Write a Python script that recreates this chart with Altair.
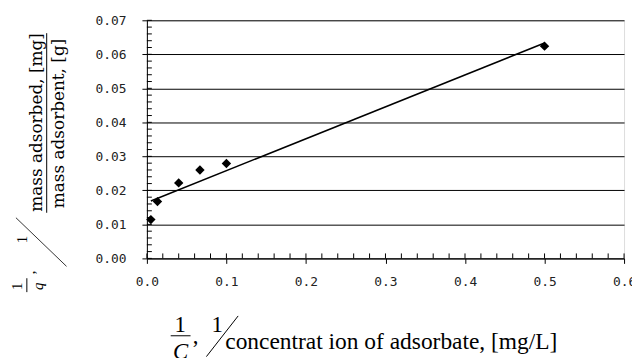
import altair as alt
import pandas as pd

# data
inv_c = [0.005, 0.0133, 0.04, 0.0667, 0.1, 0.5]
inv_q = [0.0114, 0.0167, 0.0222, 0.026, 0.0279, 0.0624]

x_major = [0.0, 0.1, 0.2, 0.3, 0.4, 0.5, 0.6]
x_minor = [round(i * 0.02, 2) for i in range(31)]
y_major = [0.0, 0.01, 0.02, 0.03, 0.04, 0.05, 0.06, 0.07]
y_minor = [round(i * 0.002, 3) for i in range(36)]

x_title_main = "concentrat ion of adsorbate,  [mg/L]"
y_title_num = "mass  adsorbed, [mg]"
y_title_den = "mass  adsorbent, [g]"

df = pd.DataFrame({"x": inv_c, "y": inv_q})
xminor_df = pd.DataFrame({"x": x_minor})
yminor_df = pd.DataFrame({"y": y_minor})

W, H = 481, 240
LBL_FONT = "DejaVu Sans Mono"

xs = alt.Scale(domain=[0, 0.6], nice=False, zero=False)
ys = alt.Scale(domain=[0, 0.07], nice=False, zero=False)
xa = alt.Axis(values=x_major, format=".1f", title=None, grid=False, tickSize=5,
              tickColor="black", domainColor="black", labelFont=LBL_FONT,
              labelFontSize=13, labelColor="#222", labelPadding=12,
              labelFlush=False, labelOverlap=False)
ya = alt.Axis(values=y_major, format=".2f", title=None, grid=True, gridColor="black",
              gridOpacity=1, tickSize=5, tickColor="black", domainColor="black",
              labelFont=LBL_FONT, labelFontSize=13, labelColor="#222", labelPadding=16,
              labelFlush=False, labelOverlap=False)

points = alt.Chart(df).mark_point(shape="diamond", filled=True, color="black",
                                  size=90, opacity=1).encode(
    x=alt.X("x:Q", scale=xs, axis=xa), y=alt.Y("y:Q", scale=ys, axis=ya))

trend = alt.Chart(df).transform_regression("x", "y").mark_line(
    color="black", strokeWidth=1.6).encode(
    x=alt.X("x:Q", scale=xs, axis=xa), y=alt.Y("y:Q", scale=ys, axis=ya))

xminor = alt.Chart(xminor_df).mark_rule(color="black", strokeWidth=1).encode(
    x=alt.X("x:Q", scale=xs, axis=xa), y=alt.value(H - 5), y2=alt.value(H))
yminor = alt.Chart(yminor_df).mark_rule(color="black", strokeWidth=1).encode(
    y=alt.Y("y:Q", scale=ys, axis=ya), x=alt.value(0), x2=alt.value(5))

one = pd.DataFrame({"a": [0]})


def txt(t, x, y, size, font="Liberation Serif", angle=0, align="center",
        baseline="alphabetic", style="normal"):
    return alt.Chart(one).mark_text(
        text=t, font=font, fontSize=size, angle=angle, align=align,
        baseline=baseline, fontStyle=style, color="black").encode(
        x=alt.value(x), y=alt.value(y))


def rule(x1, y1, x2, y2, w=1.0):
    return alt.Chart(one).mark_rule(color="black", strokeWidth=w).encode(
        x=alt.value(x1), y=alt.value(y1), x2=alt.value(x2), y2=alt.value(y2))


annots = [
    # x title
    txt("1", 33.5, 314, 23),
    rule(24, 318, 44, 318),
    txt("C", 34, 341, 23, style="italic"),
    txt(",", 49, 325, 23),
    txt("1", 71, 314, 23),
    rule(92, 298, 60, 339),
    txt(x_title_main, 79, 331, 23.6, align="left"),
    # y title
    txt("1", -131, 268, 15, angle=270, baseline="middle"),
    rule(-121, 260, -121, 274),
    txt("q", -110, 268, 15, angle=270, baseline="middle", style="italic"),
    txt(",", -118, 254, 15, angle=270, baseline="middle"),
    txt("1", -125.5, 221, 15, angle=270, baseline="middle"),
    rule(-132, 199, -81, 248, 0.8),
    txt(y_title_num, -111, 103, 17, font="DejaVu Serif", angle=270, baseline="middle"),
    rule(-101, 13, -101, 194),
    txt(y_title_den, -88.5, 104, 17, font="DejaVu Serif", angle=270, baseline="middle"),
]

chart = alt.layer(points, trend, xminor, yminor, *annots).properties(
    width=W, height=H, autosize="none",
    padding={"left": 140, "top": 11, "right": 8, "bottom": 99},
).configure_view(stroke="black", strokeWidth=1).configure(background="white")

chart.save("out.html", embed_options={"renderer": "svg", "actions": False})
